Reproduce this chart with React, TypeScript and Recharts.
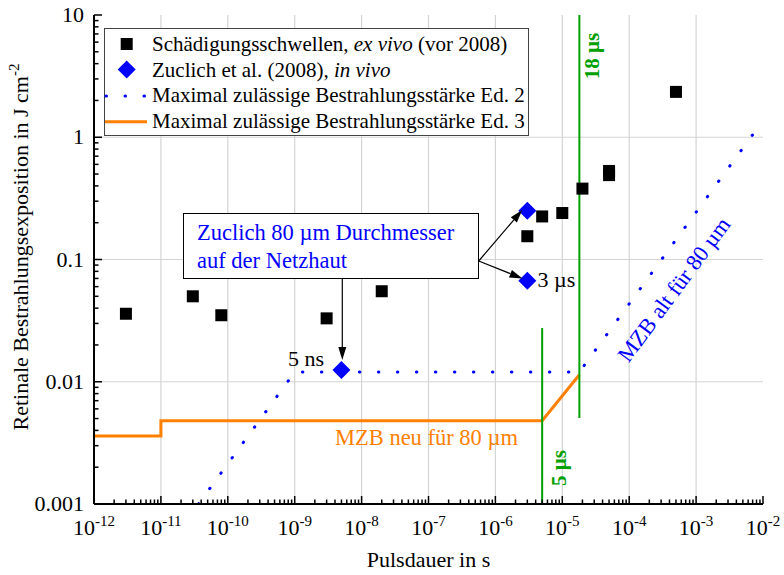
import React from "react";
import {
  ComposedChart,
  Legend,
  Line,
  ReferenceLine,
  Scatter,
  XAxis,
  YAxis,
} from "recharts";

const W = 784;
const H = 575;
const SERIF = "Liberation Serif, Tinos, Times New Roman, Times, Nimbus Roman, DejaVu Serif, serif";
const BLUE = "#0000ff";
const ORANGE = "#ff8000";
const GREEN = "#00a000";
const GRID = "#d4d4d4";

// Schädigungsschwellen ex vivo: pulse duration (s) / retinal exposure (J/cm²)
const exVivoDuration = [3e-12, 3e-11, 8e-11, 3e-9, 2e-8, 3e-6, 5e-6, 1e-5, 2e-5, 5e-5, 5e-5, 5e-4];
const exVivoExposure = [0.036, 0.05, 0.035, 0.033, 0.055, 0.155, 0.225, 0.24, 0.38, 0.53, 0.49, 2.35];

// Zuclich et al. (2008), in vivo
const zuclichDuration = [5e-9, 3e-6, 3e-6];
const zuclichExposure = [0.0125, 0.25, 0.067];

// MZB Ed. 2, 80 µm spot
const ed2Duration = [3.64e-11, 1e-9, 1.8e-5, 1e-2];
const ed2Exposure = [0.001, 0.012, 0.012, 1.37];

// MZB Ed. 3, 80 µm spot
const ed3Duration = [1e-12, 1e-11, 1e-11, 5e-6, 1.8e-5];
const ed3Exposure = [0.0036, 0.0036, 0.0048, 0.0048, 0.0114];

// vertical markers at 5 µs and 18 µs
const mark5Duration = [5e-6, 5e-6];
const mark5Exposure = [0.0275, 0.001];
const mark18Duration = [1.8e-5, 1.8e-5];
const mark18Exposure = [10, 0.00505];

// axis decades and their labels
const xDecades = [1e-12, 1e-11, 1e-10, 1e-9, 1e-8, 1e-7, 1e-6, 1e-5, 1e-4, 1e-3, 1e-2];
const xExponents = ["-12", "-11", "-10", "-9", "-8", "-7", "-6", "-5", "-4", "-3", "-2"];
const yDecades = [0.001, 0.01, 0.1, 1, 10];
const yLabels = ["0.001", "0.01", "0.1", "1", "10"];

const toPoints = (xs: number[], ys: number[]) => xs.map((x, i) => ({ x, y: ys[i] }));

const minorTicks = (decades: number[]) =>
  decades.slice(0, -1).flatMap((d) => [2, 3, 4, 5, 6, 7, 8, 9].map((m) => m * d));

const xTicks = [...xDecades, ...minorTicks(xDecades)].sort((a, b) => a - b);
const yTicks = [...yDecades, ...minorTicks(yDecades)].sort((a, b) => a - b);

const decadeIndex = (decades: number[], v: number) =>
  decades.findIndex((d) => Math.abs(Math.log10(d) - Math.log10(v)) < 1e-6);

const MAJOR = 8;
const MINOR = 4.5;

function BottomTick({ x, y, payload }: any) {
  const i = decadeIndex(xDecades, payload.value);
  return (
    <g>
      <line x1={x} x2={x} y1={y} y2={y - (i >= 0 ? MAJOR : MINOR)} stroke="#000" strokeWidth={1.5} />
      {i >= 0 && (
        <text x={x} y={y + 31} textAnchor="middle" style={{ fontFamily: SERIF }} fontSize={22} fill="#000">
          10
          <tspan dy={-9} fontSize={15}>
            {xExponents[i]}
          </tspan>
        </text>
      )}
    </g>
  );
}

function TopTick({ x, y, payload }: any) {
  const i = decadeIndex(xDecades, payload.value);
  return <line x1={x} x2={x} y1={y} y2={y + (i >= 0 ? MAJOR : MINOR)} stroke="#000" strokeWidth={1.5} />;
}

function LeftTick({ x, y, payload }: any) {
  const i = decadeIndex(yDecades, payload.value);
  return (
    <g>
      <line x1={x} x2={x + (i >= 0 ? MAJOR : MINOR)} y1={y} y2={y} stroke="#000" strokeWidth={1.5} />
      {i >= 0 && (
        <text x={x - 10} y={y + 7} textAnchor="end" style={{ fontFamily: SERIF }} fontSize={22} fill="#000">
          {yLabels[i]}
        </text>
      )}
    </g>
  );
}

function RightTick({ x, y, payload }: any) {
  const i = decadeIndex(yDecades, payload.value);
  return <line x1={x} x2={x - (i >= 0 ? MAJOR : MINOR)} y1={y} y2={y} stroke="#000" strokeWidth={1.5} />;
}

function SquareMark({ cx, cy }: any) {
  return <rect x={cx - 6} y={cy - 6} width={12} height={12} fill="#000" />;
}

function DiamondMark({ cx, cy }: any) {
  return <polygon points={`${cx},${cy - 9} ${cx + 9},${cy} ${cx},${cy + 9} ${cx - 9},${cy}`} fill={BLUE} />;
}

function LegendBox() {
  const rows = [23, 48.5, 74, 99.7];
  return (
    <svg width={426} height={109} style={{ display: "block", fontFamily: SERIF }}>
      <rect x={0.5} y={0.5} width={424} height={107} fill="#fff" stroke="#444" strokeWidth={1} />
      <g fontSize={21} fill="#000">
        <rect x={16.7} y={rows[0] - 13} width={12} height={12} fill="#000" />
        <text x={48} y={rows[0]}>
          Schädigungsschwellen, <tspan fontStyle="italic">ex vivo</tspan> (vor 2008)
        </text>
        <polygon
          points={`22.7,${rows[1] - 16} 31.7,${rows[1] - 7} 22.7,${rows[1] + 2} 13.7,${rows[1] - 7}`}
          fill={BLUE}
        />
        <text x={48} y={rows[1]}>
          Zuclich et al. (2008), <tspan fontStyle="italic">in vivo</tspan>
        </text>
        <line
          x1={2}
          x2={42}
          y1={rows[2] - 6}
          y2={rows[2] - 6}
          stroke={BLUE}
          strokeWidth={3}
          strokeDasharray="0.5 18.5"
          strokeLinecap="round"
        />
        <text x={48} y={rows[2]}>
          Maximal zulässige Bestrahlungsstärke Ed. 2
        </text>
        <line x1={1} x2={43} y1={rows[3] - 6} y2={rows[3] - 6} stroke={ORANGE} strokeWidth={3} />
        <text x={48} y={rows[3]}>
          Maximal zulässige Bestrahlungsstärke Ed. 3
        </text>
      </g>
    </svg>
  );
}

function Arrow({ x1, y1, x2, y2 }: { x1: number; y1: number; x2: number; y2: number }) {
  const a = Math.atan2(y2 - y1, x2 - x1);
  const len = 13;
  const half = 4;
  const bx = x2 - len * Math.cos(a);
  const by = y2 - len * Math.sin(a);
  const px = -Math.sin(a) * half;
  const py = Math.cos(a) * half;
  return (
    <g>
      <line x1={x1} y1={y1} x2={bx} y2={by} stroke="#000" strokeWidth={1.2} />
      <polygon points={`${x2},${y2} ${bx + px},${by + py} ${bx - px},${by - py}`} fill="#000" />
    </g>
  );
}

function Annotations() {
  return (
    <svg
      width={W}
      height={H}
      style={{ position: "absolute", left: 0, top: 0, pointerEvents: "none", fontFamily: SERIF }}
    >
      <text transform="translate(28 247) rotate(-90)" textAnchor="middle" fontSize={22} fill="#000">
        Retinale Bestrahlungsexposition in J cm
        <tspan dy={-9} fontSize={15}>
          -2
        </tspan>
      </text>

      <rect x={183.5} y={213.5} width={295} height={65} fill="#fff" stroke="#000" strokeWidth={1} />
      <text x={197} y={240} fontSize={22.5} fill={BLUE}>
        Zuclich 80 µm Durchmesser
      </text>
      <text x={197} y={268} fontSize={22.5} fill={BLUE}>
        auf der Netzhaut
      </text>
      <Arrow x1={342.3} y1={279} x2={342.3} y2={360} />
      <Arrow x1={478.7} y1={261} x2={522.3} y2={210} />
      <Arrow x1={478.7} y1={261} x2={522.5} y2={278.5} />

      <text x={288} y={366} fontSize={22} fill="#000">
        5 ns
      </text>
      <text x={537.5} y={287} fontSize={22} fill="#000">
        3 µs
      </text>
      <text x={335} y={445} fontSize={22.5} fill={ORANGE}>
        MZB neu für 80 µm
      </text>
      <text transform="translate(680 294) rotate(-53.5)" textAnchor="middle" fontSize={22.5} fill={BLUE}>
        MZB alt für 80 µm
      </text>
      <text
        transform="translate(599 56) rotate(-90)"
        textAnchor="middle"
        fontSize={21}
        fontWeight="bold"
        fill={GREEN}
      >
        18 µs
      </text>
      <text
        transform="translate(566 468) rotate(-90)"
        textAnchor="middle"
        fontSize={21}
        fontWeight="bold"
        fill={GREEN}
      >
        5 µs
      </text>
    </svg>
  );
}

export default function App() {
  return (
    <div
      style={{
        position: "absolute",
        left: 0,
        top: 0,
        width: W,
        height: H,
        background: "#fff",
        fontFamily: SERIF,
      }}
    >
      <ComposedChart width={W} height={H} margin={{ top: 15, right: 21, bottom: 0, left: 0 }}>
        <XAxis
          dataKey="x"
          type="number"
          scale="log"
          domain={[1e-12, 1e-2]}
          allowDataOverflow
          ticks={xTicks}
          interval={0}
          tickSize={0}
          tickMargin={0}
          tick={BottomTick}
          height={71}
          axisLine={{ stroke: "#000", strokeWidth: 2 }}
          label={{
            value: "Pulsdauer in s",
            position: "insideBottom",
            offset: 8,
            fontSize: 22,
            fill: "#000",
            style: { fontFamily: SERIF },
          }}
        />
        <XAxis
          xAxisId="top"
          orientation="top"
          type="number"
          scale="log"
          domain={[1e-12, 1e-2]}
          allowDataOverflow
          ticks={xTicks}
          interval={0}
          tickSize={0}
          tickMargin={0}
          tick={TopTick}
          height={0}
          axisLine={{ stroke: "#000", strokeWidth: 2 }}
        />
        <YAxis
          dataKey="y"
          type="number"
          scale="log"
          domain={[0.001, 10]}
          allowDataOverflow
          ticks={yTicks}
          interval={0}
          tickSize={0}
          tickMargin={0}
          tick={LeftTick}
          width={94}
          axisLine={{ stroke: "#000", strokeWidth: 2 }}
        />
        <YAxis
          yAxisId="right"
          orientation="right"
          type="number"
          scale="log"
          domain={[0.001, 10]}
          allowDataOverflow
          ticks={yTicks}
          interval={0}
          tickSize={0}
          tickMargin={0}
          tick={RightTick}
          width={0}
          axisLine={{ stroke: "#000", strokeWidth: 2 }}
        />

        {xDecades.slice(1, -1).map((d) => (
          <ReferenceLine key={`gx${d}`} x={d} stroke={GRID} strokeWidth={1.2} />
        ))}
        {yDecades.slice(1, -1).map((d) => (
          <ReferenceLine key={`gy${d}`} y={d} stroke={GRID} strokeWidth={1.2} />
        ))}

        <Line
          data={toPoints(ed3Duration, ed3Exposure)}
          dataKey="y"
          type="linear"
          stroke={ORANGE}
          strokeWidth={3}
          dot={false}
          activeDot={false}
          isAnimationActive={false}
        />
        <Line
          data={toPoints(ed2Duration, ed2Exposure)}
          dataKey="y"
          type="linear"
          stroke={BLUE}
          strokeWidth={3}
          strokeDasharray="0.5 18.5"
          strokeLinecap="round"
          dot={false}
          activeDot={false}
          isAnimationActive={false}
        />
        <Scatter data={toPoints(exVivoDuration, exVivoExposure)} shape={SquareMark} isAnimationActive={false} />
        <Scatter data={toPoints(zuclichDuration, zuclichExposure)} shape={DiamondMark} isAnimationActive={false} />
        <Line
          data={toPoints(mark5Duration, mark5Exposure)}
          dataKey="y"
          type="linear"
          stroke={GREEN}
          strokeWidth={2}
          dot={false}
          activeDot={false}
          isAnimationActive={false}
        />
        <Line
          data={toPoints(mark18Duration, mark18Exposure)}
          dataKey="y"
          type="linear"
          stroke={GREEN}
          strokeWidth={2}
          dot={false}
          activeDot={false}
          isAnimationActive={false}
        />

        <Legend
          layout="vertical"
          align="center"
          verticalAlign="middle"
          wrapperStyle={{ left: 104, top: 28, width: 426, height: 109 }}
          content={LegendBox}
        />
      </ComposedChart>
      <Annotations />
    </div>
  );
}
